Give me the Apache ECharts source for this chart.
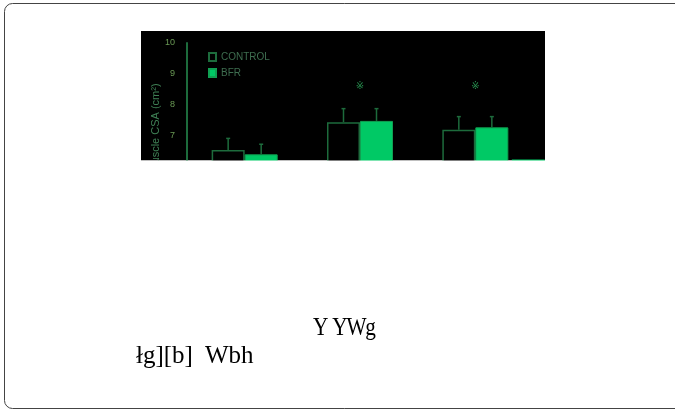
<!DOCTYPE html>
<html><head><meta charset="utf-8">
<script src="https://cdn.jsdelivr.net/npm/echarts@6/dist/echarts.min.js"></script>
<style>
html,body{margin:0;padding:0;background:#fff}
#wrap{position:relative;width:675px;height:410px}
#c{width:675px;height:410px}
.cap{position:absolute;font-family:'Liberation Serif',serif;font-size:25px;line-height:25px;color:#000;white-space:pre}
#cap1{left:313px;top:314px;letter-spacing:-1.4px;word-spacing:3px;transform:scaleX(0.85);transform-origin:0 0}
#cap2{left:136px;top:342px}
</style>
</head><body><div id="wrap"><div id="c"></div>
<div class="cap" id="cap1"></div>
<div class="cap" id="cap2"></div>
</div>
<script>
// ---- data ----
const categories = ['Pre', 'Mid', 'Post'];
const seriesNames = ['CONTROL', 'BFR'];
const controlMean = [6.51, 7.42, 7.17];
const controlUpper = [6.89, 7.86, 7.60];
const bfrMean = [6.37, 7.46, 7.25];
const bfrUpper = [6.70, 7.86, 7.60];
const extraMean = [null, null, 6.2];
const sigMarks = ['', '※', '※'];
const sigLevel = [8.6, 8.6, 8.6];
const yMin = 6, yMax = 10, yStep = 1;
const yAxisTitle = 'Muscle CSA (cm²)';
const captionLines = ['Y YWg', 'łg][b]  Wbh'];

document.getElementById('cap1').textContent = captionLines[0];
document.getElementById('cap2').textContent = captionLines[1];

// ---- styling ----
const BAR_FRAC = 0.2862;
const darkGreen = '#1d6b3c';
const brightGreen = '#00c965';

function errRender(side) {
  return function (params, api) {
    const i = api.value(0);
    const base = api.coord([i, api.value(1)]);
    const top = api.coord([i, api.value(2)]);
    const bw = api.size([1, 0])[0] * BAR_FRAC;
    const x = base[0] + side * bw / 2;
    const st = { stroke: darkGreen, lineWidth: 1.5 };
    return { type: 'group', children: [
      { type: 'line', shape: { x1: x, y1: base[1], x2: x, y2: top[1] }, style: st },
      { type: 'line', shape: { x1: x - 2, y1: top[1], x2: x + 2, y2: top[1] }, style: st }
    ]};
  };
}

const chart = echarts.init(document.getElementById('c'), null, { renderer: 'canvas' });
chart.setOption({
  animation: false,
  backgroundColor: '#fff',
  graphic: [
    { type: 'rect', z: -20, shape: { x: 4.5, y: 3.5, width: 680, height: 405, r: 8 },
      style: { fill: '#fff', stroke: '#444', lineWidth: 1 } },
    { type: 'rect', z: -10, shape: { x: 141, y: 31, width: 404, height: 129.5 },
      style: { fill: '#000' } },
    { type: 'text', z: 5, x: 156, y: 128, rotation: Math.PI / 2,
      style: { text: yAxisTitle, fill: '#3f8055', fontSize: 11, fontFamily: 'Liberation Sans',
        align: 'center', verticalAlign: 'middle' } },
    { type: 'rect', z: 100, shape: { x: 130, y: 160.5, width: 430, height: 14 },
      style: { fill: '#fff' } }
  ],
  legend: {
    data: seriesNames, orient: 'vertical', left: 208, top: 52, padding: 0,
    icon: 'rect', itemWidth: 7, itemHeight: 8, itemGap: 6,
    textStyle: { fontSize: 10, color: '#3e6e50', fontFamily: 'Liberation Sans' }
  },
  grid: [
    { left: 187, top: 43, width: 346, height: 122.7 },
    { left: 240, top: 43, width: 346, height: 122.7 }
  ],
  xAxis: [
    { type: 'category', data: categories, gridIndex: 0,
      axisLine: { show: false }, axisTick: { show: false }, axisLabel: { show: false } },
    { type: 'category', data: categories, gridIndex: 1, show: false }
  ],
  yAxis: [
    { type: 'value', gridIndex: 0, min: yMin, max: yMax, interval: yStep,
      axisLine: { show: true, lineStyle: { color: darkGreen, width: 2 } },
      axisTick: { show: false }, splitLine: { show: false },
      axisLabel: { fontSize: 9, color: '#6a9a55', margin: 12, fontFamily: 'Liberation Sans' } },
    { type: 'value', gridIndex: 1, min: yMin, max: yMax, show: false }
  ],
  series: [
    { name: seriesNames[0], type: 'bar', data: controlMean, barWidth: (BAR_FRAC * 100) + '%', barGap: '0%',
      itemStyle: { color: '#000', borderColor: darkGreen, borderWidth: 1.5 } },
    { name: seriesNames[1], type: 'bar', data: bfrMean, barWidth: (BAR_FRAC * 100) + '%', barGap: '0%',
      itemStyle: { color: brightGreen, borderColor: '#10a052', borderWidth: 1 } },
    { type: 'bar', xAxisIndex: 1, yAxisIndex: 1, data: extraMean, barWidth: (BAR_FRAC * 100) + '%',
      itemStyle: { color: brightGreen } },
    { type: 'custom', renderItem: errRender(-1), z: 3,
      data: categories.map((c, i) => [i, controlMean[i], controlUpper[i]]) },
    { type: 'custom', renderItem: errRender(1), z: 3,
      data: categories.map((c, i) => [i, bfrMean[i], bfrUpper[i]]) },
    { type: 'scatter', symbolSize: 0, z: 4,
      data: categories.map((c, i) => [i, sigLevel[i]]),
      label: { show: true, position: 'inside', formatter: p => sigMarks[p.dataIndex],
        fontSize: 10, color: '#30b060', fontFamily: 'DejaVu Sans' } }
  ]
});
</script></body></html>
